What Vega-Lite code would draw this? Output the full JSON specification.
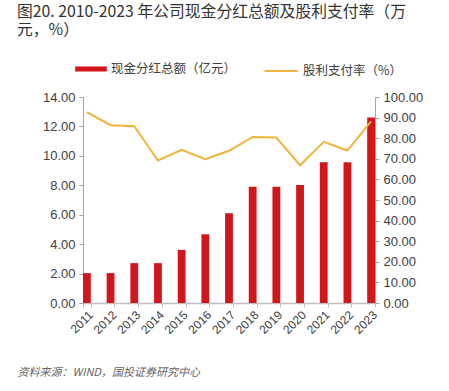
{
  "$schema": "https://vega.github.io/schema/vega-lite/v6.json",
  "width": 292,
  "height": 206,
  "autosize": "none",
  "padding": {"left": 83, "top": 97, "right": 74, "bottom": 88},
  "background": "white",
  "config": {
    "view": {"stroke": null},
    "font": "Noto Sans CJK SC"
  },
  "title": {
    "text": ["图20. 2010-2023 年公司现金分红总额及股利支付率（万", "元，%）"],
    "anchor": "start",
    "frame": "group",
    "dx": -66,
    "dy": -10,
    "fontSize": 15.8,
    "fontWeight": "normal",
    "lineHeight": 18.5,
    "color": "#333333",
    "font": "Noto Sans CJK SC"
  },
  "data": {
    "values": [
      {"year": "2011", "amount": 2.03, "ratio": 92.7, "s1": "现金分红总额（亿元）", "s2": "股利支付率（%）"},
      {"year": "2012", "amount": 2.03, "ratio": 86.3, "s1": "现金分红总额（亿元）", "s2": "股利支付率（%）"},
      {"year": "2013", "amount": 2.71, "ratio": 85.8, "s1": "现金分红总额（亿元）", "s2": "股利支付率（%）"},
      {"year": "2014", "amount": 2.71, "ratio": 69.2, "s1": "现金分红总额（亿元）", "s2": "股利支付率（%）"},
      {"year": "2015", "amount": 3.61, "ratio": 74.3, "s1": "现金分红总额（亿元）", "s2": "股利支付率（%）"},
      {"year": "2016", "amount": 4.67, "ratio": 69.8, "s1": "现金分红总额（亿元）", "s2": "股利支付率（%）"},
      {"year": "2017", "amount": 6.1, "ratio": 73.9, "s1": "现金分红总额（亿元）", "s2": "股利支付率（%）"},
      {"year": "2018", "amount": 7.9, "ratio": 80.6, "s1": "现金分红总额（亿元）", "s2": "股利支付率（%）"},
      {"year": "2019", "amount": 7.9, "ratio": 80.3, "s1": "现金分红总额（亿元）", "s2": "股利支付率（%）"},
      {"year": "2020", "amount": 8.02, "ratio": 66.9, "s1": "现金分红总额（亿元）", "s2": "股利支付率（%）"},
      {"year": "2021", "amount": 9.57, "ratio": 78.2, "s1": "现金分红总额（亿元）", "s2": "股利支付率（%）"},
      {"year": "2022", "amount": 9.57, "ratio": 74.0, "s1": "现金分红总额（亿元）", "s2": "股利支付率（%）"},
      {"year": "2023", "amount": 12.6, "ratio": 88.2, "s1": "现金分红总额（亿元）", "s2": "股利支付率（%）"}
    ]
  },
  "encoding": {
    "x": {
      "field": "year",
      "type": "nominal",
      "scale": {"paddingInner": 0.67, "paddingOuter": 0.0},
      "axis": {
        "title": "资料来源：WIND，国投证券研究中心",
        "titleFont": "Noto Sans CJK SC",
        "titleFontSize": 11,
        "titleFontStyle": "italic",
        "titleFontWeight": "normal",
        "titleColor": "#666666",
        "titleAnchor": "start",
        "titleAlign": "left",
        "titleX": -66,
        "titleY": 63,
        "labelAngle": -45,
        "labelFontSize": 12,
        "labelColor": "#404040",
        "labelFont": "Arial",
        "labelPadding": 2,
        "tickBand": "extent",
        "tickSize": 4,
        "tickColor": "#bfbfbf",
        "domainColor": "#bfbfbf",
        "domainWidth": 1.5
      }
    }
  },
  "layer": [
    {
      "mark": {"type": "bar"},
      "encoding": {
        "y": {
          "field": "amount",
          "type": "quantitative",
          "scale": {"domain": [0, 14]},
          "axis": {
            "title": null,
            "values": [0, 2, 4, 6, 8, 10, 12, 14],
            "format": ".2f",
            "grid": false,
            "labelFontSize": 13,
            "labelColor": "#404040",
            "labelFont": "Arial",
            "labelPadding": 4,
            "tickSize": 4,
            "tickColor": "#a6a6a6",
            "domainColor": "#a6a6a6"
          }
        },
        "color": {
          "field": "s1",
          "type": "nominal",
          "scale": {"range": ["#D2161E"]},
          "legend": {
            "title": null,
            "orient": "none",
            "legendX": -8,
            "legendY": -44,
            "symbolType": "M-1,-0.16H1V0.16H-1Z",
            "symbolSize": 1000,
            "symbolStrokeWidth": 0,
            "labelFontSize": 12.5,
            "labelColor": "#404040",
            "labelFont": "Noto Sans CJK SC"
          }
        }
      }
    },
    {
      "mark": {"type": "line", "strokeWidth": 2},
      "encoding": {
        "y": {
          "field": "ratio",
          "type": "quantitative",
          "scale": {"domain": [0, 100]},
          "axis": {
            "title": null,
            "orient": "right",
            "values": [0, 10, 20, 30, 40, 50, 60, 70, 80, 90, 100],
            "format": ".2f",
            "grid": false,
            "labelFontSize": 13,
            "labelColor": "#404040",
            "labelFont": "Arial",
            "labelPadding": 4,
            "tickSize": 4,
            "tickColor": "#a6a6a6",
            "domainColor": "#a6a6a6"
          }
        },
        "stroke": {
          "field": "s2",
          "type": "nominal",
          "scale": {"range": ["#F0B43C"]},
          "legend": {
            "title": null,
            "orient": "none",
            "legendX": 180,
            "legendY": -44,
            "symbolType": "stroke",
            "symbolSize": 1100,
            "symbolStrokeWidth": 2,
            "labelFontSize": 12.5,
            "labelColor": "#404040",
            "labelFont": "Noto Sans CJK SC"
          }
        }
      }
    }
  ],
  "resolve": {"scale": {"y": "independent", "color": "independent", "stroke": "independent"}, "legend": {"color": "independent", "stroke": "independent"}}
}
